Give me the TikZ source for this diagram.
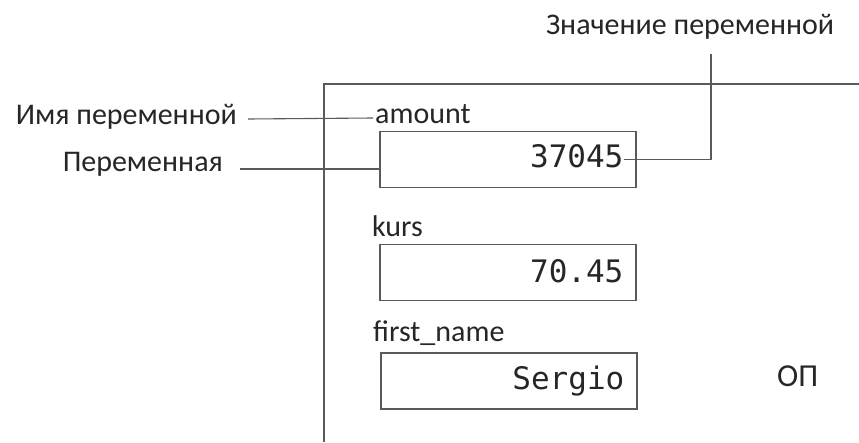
\documentclass[tikz,border=0pt]{standalone}
\usepackage{fontspec}
\setmainfont{Carlito}
\newfontfamily\valfont{DejaVu Sans Mono}
\usetikzlibrary{calc}
\definecolor{inkline}{HTML}{5A5A5A}
\definecolor{inktext}{HTML}{262626}
\begin{document}
\begin{tikzpicture}[x=1pt,y=-1pt,
  lbl/.style={inner sep=0pt,text=inktext,font=\fontsize{30}{36}\selectfont},
  val/.style={inner sep=0pt,text=inktext,font=\valfont\fontsize{31}{36}\selectfont},
  cell/.style={draw=inkline,line width=1.2pt,minimum width=256pt,minimum height=56pt,inner sep=0pt},
  wire/.style={draw=inkline,line width=1.1pt}]
\useasboundingbox (0,0) rectangle (859,442);

% memory region frame
\draw[wire] (324,442) |- (859,84);

% variable cells
\node[cell] (box1) at (508,159.5) {};
\node[cell] (box2) at (508,272.5) {};
\node[cell] (box3) at (509,381) {};

% variable names
\node[lbl,anchor=base west] (amount) at (375,123) {amount};
\node[lbl,anchor=base west] (kurs) at (372,236) {kurs};
\node[lbl,anchor=base west] (fname) at (373,341) {first\_name};

% stored values
\node[val,anchor=base east] (v1) at ($(box1.east)+(-13,8)$) {37045};
\node[val,anchor=base east] (v2) at ($(box2.east)+(-13,9.5)$) {70.45};
\node[val,anchor=base east] (v3) at ($(box3.east)+(-13,8)$) {Sergio};

% callouts
\node[lbl,anchor=base east] (imya) at (237,124) {Имя переменной};
\node[lbl,anchor=base east] (perem) at (223,171) {Переменная};
\node[lbl,anchor=base] (znach) at (690,34) {Значение переменной};
\node[lbl,anchor=base west,font=\fontsize{32}{36}\selectfont] (op) at (777,386) {ОП};

\coordinate (valtip) at (711,54);
\draw[wire] ($(imya.base east)+(11,-5)$) -- ($(amount.base west)+(-2,-5)$);
\draw[wire] ($(perem.base east)+(17,-2)$) -- (box1.west |- 0,169);
\draw[wire] (box1.center -| v1.east) -| (valtip);
\end{tikzpicture}
\end{document}
